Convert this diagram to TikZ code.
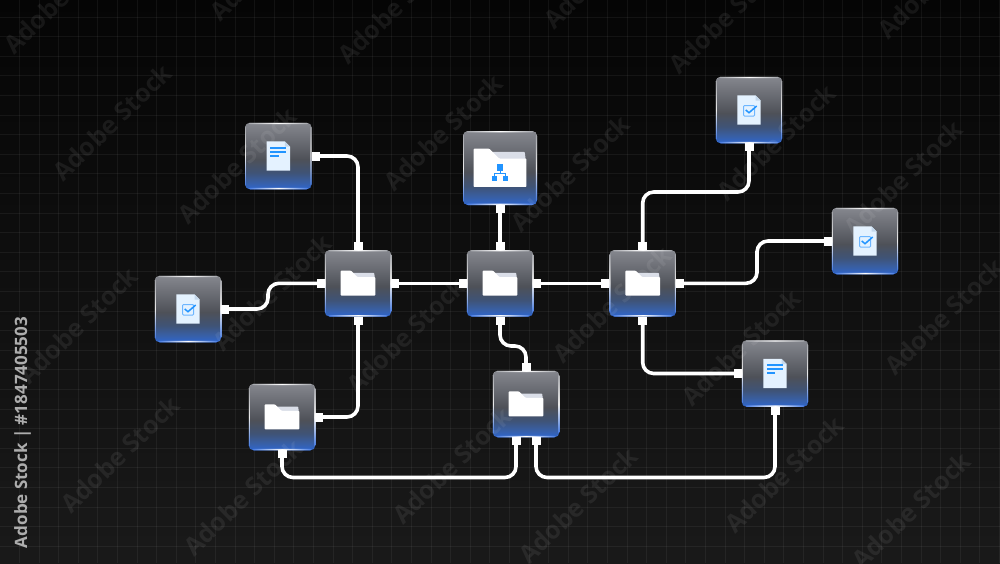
\documentclass[tikz,border=0pt]{standalone}
\usepackage{fontspec}
\setmainfont{Open Sans}
\usetikzlibrary{arrows.meta,calc}
\definecolor{tiletop}{HTML}{85878E}
\definecolor{tilemid}{HTML}{4E5158}
\definecolor{tilelow}{HTML}{3F5376}
\definecolor{tileblu}{HTML}{3860A8}
\definecolor{tileend}{HTML}{2E66D0}
\definecolor{edgegry}{HTML}{9A9CA2}
\definecolor{edgeblu}{HTML}{2F6BE0}
\definecolor{pagecol}{HTML}{E4F2FF}
\definecolor{foldcol}{HTML}{C4D8EC}
\definecolor{backcol}{HTML}{DADEE8}
\definecolor{iconblu}{HTML}{2194FF}
\definecolor{iconlit}{HTML}{6DB6FF}
\pgfdeclareverticalshading{tileshade}{100bp}{color(0bp)=(tileend); color(25bp)=(tileend);
  color(30bp)=(tileblu); color(37.5bp)=(tilelow); color(47.5bp)=(tilemid);
  color(75bp)=(tiletop); color(100bp)=(tiletop)}
\tikzset{
  gridln/.style={white,opacity=0.055,line width=0.7pt},
  wmark/.style={font=\bfseries\fontsize{25}{25}\selectfont,white,opacity=0.07,rotate=44,inner sep=0pt},
  sidetxt/.style={font=\bfseries\fontsize{17}{18}\selectfont,color=black!32,rotate=90,inner sep=0pt},
  tile/.style={rectangle,rounded corners=5pt,minimum size=66.5pt,inner sep=0pt,outer sep=0pt,
    shade,shading=tileshade,path picture={
      \shade[left color=edgegry,right color=edgegry,middle color=white]
        (path picture bounding box.north west) rectangle ([yshift=-1.4pt]path picture bounding box.north east);
      \shade[left color=edgeblu,right color=edgeblu,middle color=white]
        (path picture bounding box.south west) rectangle ([yshift=1.4pt]path picture bounding box.south east);
      \shade[top color=edgegry,bottom color=edgeblu,middle color=white!92!black]
        (path picture bounding box.south west) rectangle ([xshift=1.2pt]path picture bounding box.north west);
      \shade[top color=edgegry,bottom color=edgeblu,middle color=white!92!black]
        (path picture bounding box.south east) rectangle ([xshift=-1.2pt]path picture bounding box.north east);
    }},
  bigtile/.style={tile,minimum size=74pt},
  cable/.style={white,line width=3.6pt,rounded corners=11pt,
    {Rectangle[length=8pt,width=9pt]}-{Rectangle[length=8pt,width=9pt]}},
  % ---- icons, drawn around the tile centre ----
  sheet/.pic={
    \fill[pagecol] (-11.7,-14.7) -- (6.5,-14.7) -- (11.7,-9.5) -- (11.7,14.7) -- (-11.7,14.7) -- cycle;
    \fill[foldcol] (6.5,-14.7) -- (11.7,-9.5) -- (6.5,-9.5) -- cycle;
  },
  docic/.pic={
    \pic {sheet};
    \fill[iconblu] (-8,-9.1) rectangle (7.7,-7.4);
    \fill[iconblu] (-8,-5.1) rectangle (7.7,-3.4);
    \fill[iconblu] (-8,-1.1) rectangle (0.4,0.6);
  },
  chkic/.pic={
    \pic {sheet};
    \draw[iconlit,line width=1pt,rounded corners=1pt] (-5.5,-4.5) rectangle (5.7,6);
    \draw[iconblu,line width=1.5pt] (-3.3,0) -- (0,2.7) -- (7.7,-4);
  },
  foldic/.pic={
    \fill[backcol,rounded corners=0.8pt] (-6,-10.5) -- (16.2,-10.5) -- (16.8,-5) -- (-6,-5) -- cycle;
    \fill[white,rounded corners=0.8pt] (-17.3,-12.6) -- (-7,-12.6) -- (-0.5,-6.2) -- (17.3,-6.2) -- (17.3,12.4) -- (-17.3,12.4) -- cycle;
  },
  orgic/.pic={
    \draw[iconblu,line width=0.5pt] (0,-0.5) -- (0,5.4) (-5.7,10) -- (-5.7,5.4) -- (5.7,5.4) -- (5.7,10);
    \fill[iconblu] (-3.4,-3.7) rectangle (3.4,3);
    \fill[iconblu] (-8.2,7.8) rectangle (-3.2,12.8);
    \fill[iconblu] (3.2,7.8) rectangle (8.2,12.8);
  },
}
\begin{document}
\begin{tikzpicture}[x=1pt,y=-1pt]
  \useasboundingbox (0,0) rectangle (1000,563);
  \shade[top color=black!98,bottom color=black!90] (0,0) rectangle (1000,563);
  % grid
  \foreach \gx in {0,...,50}{
    \draw[gridln] ({19.4+19.6*\gx},0) -- ++(0,563);
  }
  \foreach \gy in {0,...,28}{
    \draw[gridln] (0,{17+19.6*\gy}) -- ++(1000,0);
  }
  % tiles
  \node[tile] (docA) at (278.3,156) {};
  \node[tile] (chkL) at (188,309) {};
  \node[tile] (fldB) at (282,417) {};
  \node[tile] (hubA) at (358,283.3) {};
  \node[tile] (hubB) at (500,283.3) {};
  \node[tile] (hubC) at (642.7,283.3) {};
  \node[tile] (midB) at (526,404) {};
  \node[tile] (docR) at (775,373.5) {};
  \node[tile] (chkT) at (749,110) {};
  \node[tile] (chkR) at (865,241) {};
  \node[bigtile] (orgF) at (500,168) {};
  % bend points of the cables
  \coordinate (kinkL) at (268,297);
  \coordinate (kinkM) at (513,346);
  \coordinate (railB) at (400,477.5);
  \coordinate (railD) at (660,477.5);
  \coordinate (railT) at (695,192);
  \coordinate (railR) at (757,262);
  % cables
  \draw[cable] (docA.east) -| (hubA.north);
  \draw[cable] (chkL.east) -- (chkL.east -| kinkL) -- (kinkL |- hubA.west) -- (hubA.west);
  \draw[cable] (hubA.south) |- (fldB.east);
  \draw[cable] (hubA.east) -- (hubB.west);
  \draw[cable] (hubB.east) -- (hubC.west);
  \draw[cable] (orgF.south) -- (hubB.north);
  \draw[cable] (hubB.south) -- (hubB.south |- kinkM) -- (midB.north |- kinkM) -- (midB.north);
  \draw[cable] (fldB.south) |- (railB) -| ([xshift=-10pt]midB.south);
  \draw[cable] (docR.south) |- (railD) -| ([xshift=10pt]midB.south);
  \draw[cable] (hubC.south) |- (docR.west);
  \draw[cable] (hubC.north) |- (railT) -| (chkT.south);
  \draw[cable] (hubC.east) -| (railR) |- (chkR.west);
  % icons
  \pic at (docA) {docic};
  \pic at (docR) {docic};
  \pic at (chkL) {chkic};
  \pic at (chkT) {chkic};
  \pic at (chkR) {chkic};
  \foreach \hub in {hubA,hubB,hubC,fldB,midB}{
    \pic at (\hub) {foldic};
  }
  \pic[scale=1.53] at (orgF) {foldic};
  \pic at (orgF) {orgic};
  % stock marks
  \foreach \wx/\wy in {63/-5,269/-38,397/5,603/-30,728/15,937/-20,
    112/122,237/165,443/132,570/173,776/142,903/178,
    78/325,272/292,406/335,612/304,741/347,944/316,
    120/454,243/497,452/465,578/505,784/474,911/510}{
    \node[wmark] (wm\wx) at (\wx,\wy) {Adobe Stock};
  }
  \node[sidetxt] (stockid) at (22.5,432.5) {Adobe Stock | \#1847405503};
\end{tikzpicture}
\end{document}
